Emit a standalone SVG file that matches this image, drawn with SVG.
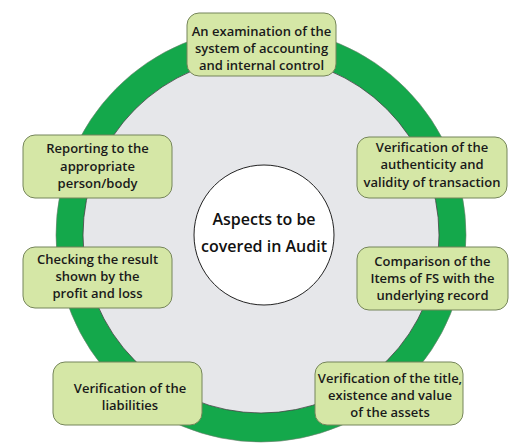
<svg xmlns="http://www.w3.org/2000/svg" width="512" height="446" viewBox="0 0 512 446">
<style>
.box{fill:#d5e7a6;stroke:#75855a;stroke-width:1}
.t{font-family:"Open Sans",sans-serif;font-weight:600;font-size:13px;fill:#1a1a1a;text-anchor:middle}
.c{font-family:"Open Sans",sans-serif;font-weight:600;font-size:16px;fill:#111;text-anchor:middle}
</style>
<rect width="512" height="446" fill="#ffffff"/>
<g id="ring">
<ellipse cx="261" cy="235" rx="205" ry="207" fill="#14a84b" stroke="#6d7d6d" stroke-width="0.6"/>
<ellipse cx="261" cy="235" rx="178" ry="178" fill="#e6e7ea" stroke="#444" stroke-width="0.8"/>
</g>
<g id="connectors"></g>
<g id="center">
<circle cx="264" cy="235" r="70" fill="#ffffff" stroke="#222" stroke-width="1"/>
<text class="c" x="264" y="225">Aspects to be</text>
<text class="c" x="264" y="252">covered in Audit</text>
</g>
<g id="n1">
<rect class="box" x="187" y="13" width="149" height="63" rx="12"/>
<text class="t" x="261.5" y="36">An examination of the</text>
<text class="t" x="261.5" y="53">system of accounting</text>
<text class="t" x="261.5" y="70">and internal control</text>
</g>
<g id="n2">
<rect class="box" x="357" y="137" width="150" height="61" rx="12"/>
<text class="t" x="432" y="152">Verification of the</text>
<text class="t" x="432" y="169">authenticity and</text>
<text class="t" x="432" y="187">validity of transaction</text>
</g>
<g id="n3">
<rect class="box" x="357" y="247" width="151" height="63" rx="12"/>
<text class="t" x="432.5" y="266">Comparison of the</text>
<text class="t" x="432.5" y="283">Items of FS with the</text>
<text class="t" x="432.5" y="300">underlying record</text>
</g>
<g id="n4">
<rect class="box" x="315" y="362" width="148" height="63" rx="12"/>
<text class="t" x="390" y="383">Verification of the title,</text>
<text class="t" x="390" y="400">existence and value</text>
<text class="t" x="390" y="417">of the assets</text>
</g>
<g id="n5">
<rect class="box" x="53" y="362" width="149" height="63" rx="12"/>
<text class="t" x="130" y="393">Verification of the</text>
<text class="t" x="130" y="410">liabilities</text>
</g>
<g id="n6">
<rect class="box" x="23" y="247" width="149" height="61" rx="12"/>
<text class="t" x="97.5" y="264">Checking the result</text>
<text class="t" x="97.5" y="281">shown by the</text>
<text class="t" x="97.5" y="298">profit and loss</text>
</g>
<g id="n7">
<rect class="box" x="23" y="135" width="149" height="63" rx="12"/>
<text class="t" x="97.5" y="153">Reporting to the</text>
<text class="t" x="97.5" y="171">appropriate</text>
<text class="t" x="97.5" y="188">person/body</text>
</g>
</svg>
